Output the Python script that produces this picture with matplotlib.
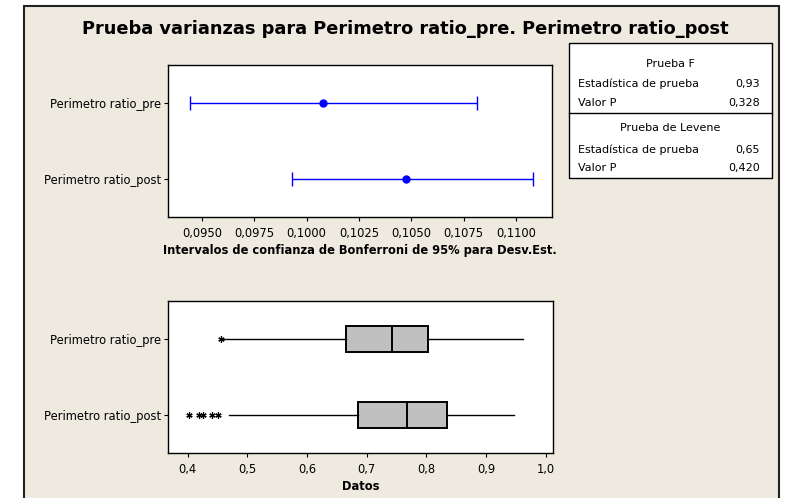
"""Prueba de varianzas (Minitab style): Bonferroni CIs for StDev + boxplots."""
import matplotlib

matplotlib.use("Agg")
import matplotlib.pyplot as plt
from matplotlib.patches import Rectangle
from matplotlib.lines import Line2D
from matplotlib.ticker import FuncFormatter, MultipleLocator

W, H = 790, 498
BEIGE = "#eeeae0"

groups = ["Perimetro ratio_pre", "Perimetro ratio_post"]

# Bonferroni 95% CI for standard deviation
sd_est = [0.10077, 0.10473]
sd_lo = [0.09443, 0.09931]
sd_hi = [0.10815, 0.11080]

# boxplot summaries (Datos)
q1 = [0.665, 0.686]
med = [0.743, 0.767]
q3 = [0.802, 0.835]
whis_lo = [0.458, 0.470]
whis_hi = [0.962, 0.947]
outliers = [[0.455], [0.403, 0.419, 0.425, 0.440, 0.450]]

# test results
f_stat, f_p = "0,93", "0,328"
lev_stat, lev_p = "0,65", "0,420"

plt.rcParams["font.family"] = "DejaVu Sans"


def comma(dec):
    return FuncFormatter(lambda v, pos: f"{v:.{dec}f}".replace(".", ","))


def px_axes(fig, left, top, right, bottom):
    return fig.add_axes([left / W, (H - bottom) / H, (right - left) / W, (bottom - top) / H])


fig = plt.figure(figsize=(W / 100, H / 100), dpi=100)
fig.patch.set_facecolor("white")
fig.patches.append(Rectangle((24 / W, -0.05), (779 - 24) / W, (H - 6) / H + 0.05,
                             transform=fig.transFigure, facecolor=BEIGE,
                             edgecolor="#222222", linewidth=1.5, zorder=-1))

fig.text(405 / W, 1 - 29 / H, "Prueba varianzas para Perimetro ratio_pre. Perimetro ratio_post",
         ha="center", va="center", fontsize=12.8, fontweight="bold")

ypos = [1, 2]

# --- top: confidence intervals ---
ax1 = px_axes(fig, 168, 65, 552, 217)
for i, y in enumerate(ypos):
    ax1.errorbar(sd_est[i], y, xerr=[[sd_est[i] - sd_lo[i]], [sd_hi[i] - sd_est[i]]],
                 fmt="o", color="#0000ff", ms=5, lw=1, capsize=5, capthick=1)
ax1.set_xlim(0.09338, 0.11172)
ax1.set_ylim(2.5, 0.5)
ax1.xaxis.set_major_locator(MultipleLocator(0.0025))
ax1.xaxis.set_major_formatter(comma(4))
ax1.set_xlabel("Intervalos de confianza de Bonferroni de 95% para Desv.Est.",
               fontsize=8.3, fontweight="bold", labelpad=3)

# --- bottom: boxplots ---
ax2 = px_axes(fig, 168, 301, 553, 453)
stats = []
for i in range(len(groups)):
    stats.append(dict(med=med[i], q1=q1[i], q3=q3[i], whislo=whis_lo[i],
                      whishi=whis_hi[i], fliers=outliers[i]))
ax2.bxp(stats, positions=ypos, vert=False, widths=0.35, patch_artist=True,
        showcaps=False,
        boxprops=dict(facecolor="#c0c0c0", edgecolor="black", linewidth=1.4),
        medianprops=dict(color="black", linewidth=1.4),
        whiskerprops=dict(color="black", linewidth=1),
        flierprops=dict(marker=(6, 2, 0), markersize=4.5, markeredgecolor="black",
                        markeredgewidth=0.9, linestyle="none"))
ax2.set_xlim(0.367, 1.012)
ax2.set_ylim(2.5, 0.5)
ax2.xaxis.set_major_locator(MultipleLocator(0.1))
ax2.xaxis.set_major_formatter(comma(1))
ax2.set_xlabel("Datos", fontsize=8.3, fontweight="bold", labelpad=3)

for ax in (ax1, ax2):
    ax.set_facecolor("white")
    ax.set_yticks(ypos)
    ax.set_yticklabels(groups)
    ax.tick_params(axis="both", direction="out", length=3, width=0.8, labelsize=8.3, pad=2)
    ax.tick_params(axis="x", pad=4)
    for s in ax.spines.values():
        s.set_linewidth(1)

# --- results table ---
tl, tr, tt, tb, tmid = 569, 772, 43, 178, 113
fig.patches.append(Rectangle((tl / W, 1 - tb / H), (tr - tl) / W, (tb - tt) / H,
                             transform=fig.transFigure, facecolor="white",
                             edgecolor="black", linewidth=1, zorder=1))
fig.add_artist(Line2D([tl / W, tr / W], [1 - tmid / H] * 2, color="black", lw=1))

rows = [
    (64, "Prueba F", None),
    (84, "Estadística de prueba", f_stat),
    (103, "Valor P", f_p),
    (128, "Prueba de Levene", None),
    (150, "Estadística de prueba", lev_stat),
    (168, "Valor P", lev_p),
]
for y, label, val in rows:
    if val is None:
        fig.text((tl + tr) / 2 / W, 1 - y / H, label, ha="center", va="center", fontsize=8)
    else:
        fig.text(578 / W, 1 - y / H, label, ha="left", va="center", fontsize=8)
        fig.text(760 / W, 1 - y / H, val, ha="right", va="center", fontsize=8)

fig.savefig("out.png", dpi=100, facecolor=fig.get_facecolor())
